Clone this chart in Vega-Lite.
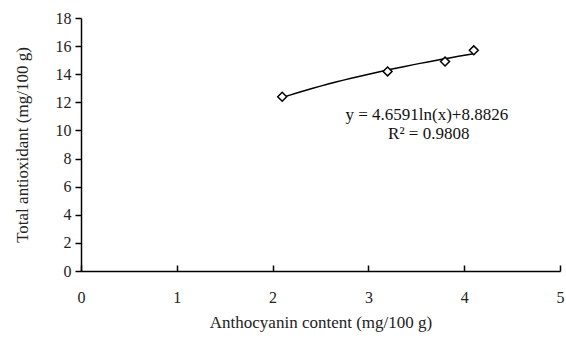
{
  "$schema": "https://vega.github.io/schema/vega-lite/v6.json",
  "width": 479,
  "height": 253,
  "autosize": {"type": "none"},
  "padding": {"left": 81, "top": 18, "right": 6, "bottom": 68},
  "background": "white",
  "config": {
    "view": {"stroke": null},
    "font": "Liberation Serif",
    "axis": {
      "grid": false,
      "domainColor": "#000",
      "domainWidth": 1.5,
      "tickColor": "#000",
      "tickWidth": 1.5,
      "labelFont": "Liberation Serif",
      "titleFont": "Liberation Serif",
      "labelFontSize": 16,
      "titleFontSize": 17,
      "labelColor": "#222",
      "titleColor": "#222",
      "titleFontWeight": "normal",
      "labelOverlap": false,
      "labelFlush": false,
      "format": "d"
    }
  },
  "datasets": {
    "pts": [
      {"x": 2.1, "y": 12.4},
      {"x": 3.2, "y": 14.2},
      {"x": 3.8, "y": 14.9},
      {"x": 4.1, "y": 15.7}
    ],
    "notes": [
      {"x": 3.61, "y": 11.1, "t": "y = 4.6591ln(x)+8.8826"},
      {"x": 3.63, "y": 9.75, "t": "R² = 0.9808"}
    ]
  },
  "encoding": {
    "x": {
      "field": "x", "type": "quantitative",
      "scale": {"domain": [0, 5], "nice": false, "zero": false},
      "axis": {"title": "Anthocyanin content (mg/100 g)", "values": [0, 1, 2, 3, 4, 5], "tickSize": -6, "labelPadding": 24, "titlePadding": 9, "labelOverlap": false}
    },
    "y": {
      "field": "y", "type": "quantitative",
      "scale": {"domain": [0, 18], "nice": false, "zero": false},
      "axis": {"title": "Total antioxidant (mg/100 g)", "values": [0, 2, 4, 6, 8, 10, 12, 14, 16, 18], "tickSize": 6, "labelPadding": 4, "titlePadding": 24, "labelOverlap": false}
    }
  },
  "layer": [
    {
      "data": {"name": "pts"},
      "transform": [{"regression": "y", "on": "x", "method": "log", "extent": [2.1, 4.1]}],
      "mark": {"type": "line", "color": "#000", "strokeWidth": 1.5}
    },
    {
      "data": {"name": "pts"},
      "mark": {"type": "point", "shape": "diamond", "filled": true, "fill": "white", "stroke": "#000", "strokeWidth": 1.5, "size": 80, "opacity": 1}
    },
    {
      "data": {"name": "notes"},
      "mark": {"type": "text", "font": "Liberation Serif", "fontSize": 17, "color": "#111", "align": "center", "baseline": "middle"},
      "encoding": {
        "text": {"field": "t"}
      }
    }
  ]
}
